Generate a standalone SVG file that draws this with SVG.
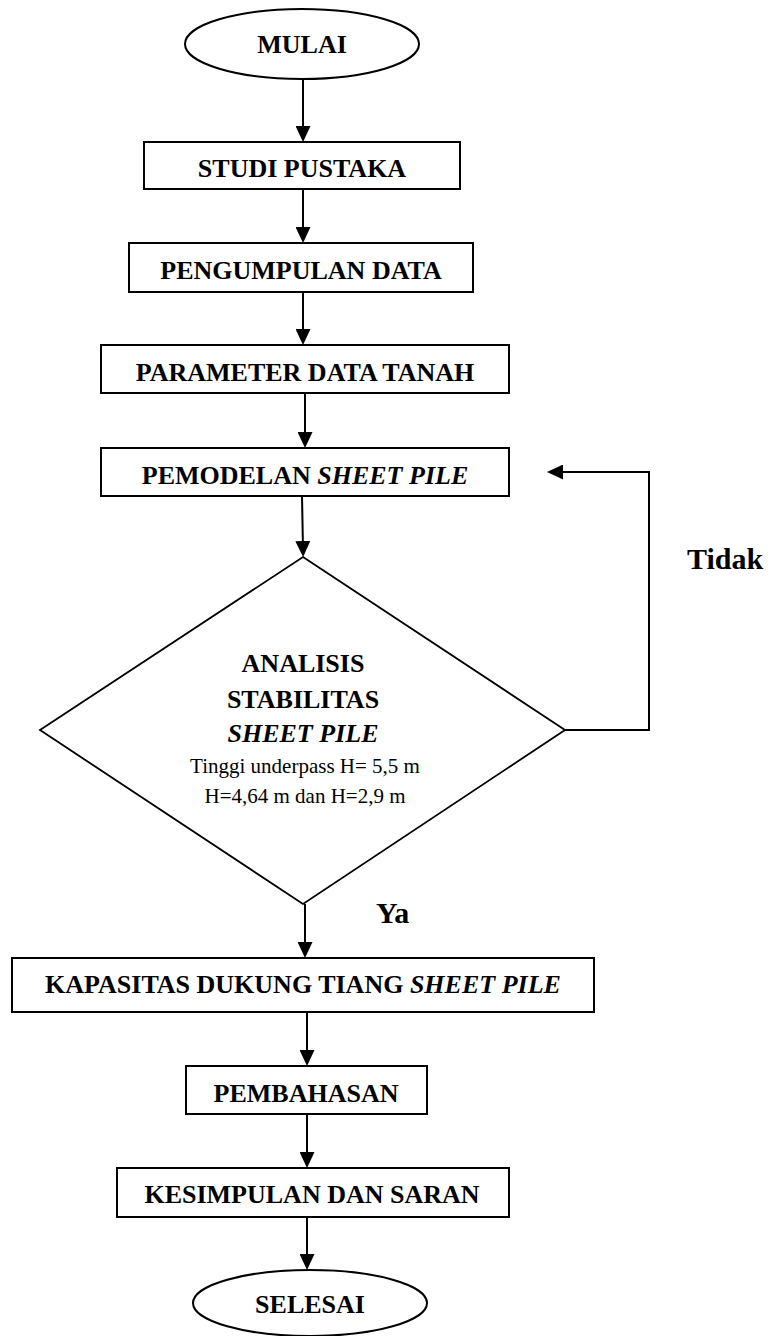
<svg xmlns="http://www.w3.org/2000/svg" width="773" height="1336" viewBox="0 0 773 1336">
<defs>
<style>
.box{fill:#fff;stroke:#000;stroke-width:2}
.dia{fill:#fff;stroke:#000;stroke-width:1.8}
.con{fill:none;stroke:#000;stroke-width:2}
.t{font-family:"Liberation Serif","Times New Roman",serif;font-weight:bold;font-size:26px;text-anchor:middle;fill:#000}
.s{font-family:"Liberation Serif","Times New Roman",serif;font-size:21px;text-anchor:middle;fill:#000}
.lbl{font-family:"Liberation Serif","Times New Roman",serif;font-weight:bold;font-size:30px;fill:#000}
.it{font-style:italic}
</style>
<marker id="ah" viewBox="0 0 16 15" refX="8" refY="7.5" markerWidth="16" markerHeight="15" markerUnits="userSpaceOnUse" orient="auto">
<path d="M0,0 L16,7.5 L0,15 z" fill="#000"/>
</marker>
</defs>
<rect width="773" height="1336" fill="#fff"/>
<g id="connectors">
<line class="con" x1="303" y1="79" x2="303" y2="134" marker-end="url(#ah)"/>
<line class="con" x1="303" y1="189" x2="303" y2="235" marker-end="url(#ah)"/>
<line class="con" x1="303" y1="292" x2="303" y2="337" marker-end="url(#ah)"/>
<line class="con" x1="305" y1="393" x2="305" y2="440" marker-end="url(#ah)"/>
<line class="con" x1="302" y1="496" x2="303" y2="549" marker-end="url(#ah)"/>
<polyline class="con" points="565,730 649,730 649,472 555,472" marker-end="url(#ah)"/>
<line class="con" x1="305" y1="904" x2="305" y2="950" marker-end="url(#ah)"/>
<line class="con" x1="307" y1="1012" x2="307" y2="1058" marker-end="url(#ah)"/>
<line class="con" x1="307" y1="1114" x2="307" y2="1160" marker-end="url(#ah)"/>
<line class="con" x1="307" y1="1217" x2="307" y2="1262" marker-end="url(#ah)"/>
<text class="lbl" x="687" y="569">Tidak</text>
<text class="lbl" x="376" y="923">Ya</text>
</g>
<g id="mulai">
<ellipse class="box" cx="302" cy="44" rx="117" ry="35"/>
<text class="t" x="302" y="53">MULAI</text>
</g>
<g id="studi-pustaka">
<rect class="box" x="144" y="142" width="316" height="47"/>
<text class="t" x="302" y="177">STUDI PUSTAKA</text>
</g>
<g id="pengumpulan-data">
<rect class="box" x="129" y="243" width="344" height="49"/>
<text class="t" x="301" y="279">PENGUMPULAN DATA</text>
</g>
<g id="parameter-data-tanah">
<rect class="box" x="101" y="345" width="408" height="48"/>
<text class="t" x="305" y="381">PARAMETER DATA TANAH</text>
</g>
<g id="pemodelan">
<rect class="box" x="101" y="448" width="408" height="48"/>
<text class="t" x="305" y="484">PEMODELAN <tspan class="it">SHEET PILE</tspan></text>
</g>
<g id="analisis">
<polygon class="dia" points="303,557 565,730 303,904 40,730"/>
<text class="t" x="303" y="672">ANALISIS</text>
<text class="t" x="303" y="708">STABILITAS</text>
<text class="t it" x="303" y="742">SHEET PILE</text>
<text class="s" x="305" y="773">Tinggi underpass H= 5,5 m</text>
<text class="s" x="305" y="803">H=4,64 m dan H=2,9 m</text>
</g>
<g id="kapasitas">
<rect class="box" x="12" y="958" width="582" height="54"/>
<text class="t" x="303" y="993">KAPASITAS DUKUNG TIANG <tspan class="it">SHEET PILE</tspan></text>
</g>
<g id="pembahasan">
<rect class="box" x="186" y="1066" width="241" height="48"/>
<text class="t" x="306" y="1102">PEMBAHASAN</text>
</g>
<g id="kesimpulan">
<rect class="box" x="117" y="1168" width="392" height="49"/>
<text class="t" x="312" y="1203">KESIMPULAN DAN SARAN</text>
</g>
<g id="selesai">
<ellipse class="box" cx="310" cy="1303" rx="117" ry="33"/>
<text class="t" x="310" y="1313">SELESAI</text>
</g>
</svg>
